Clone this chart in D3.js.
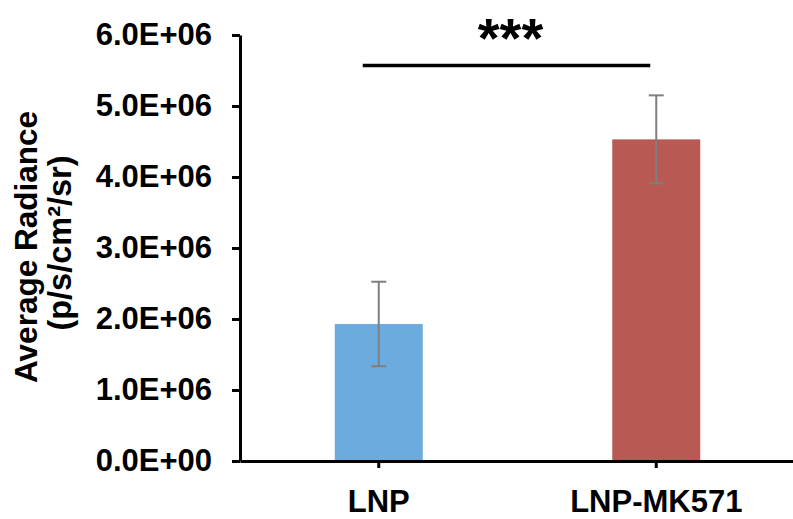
<!DOCTYPE html>
<html>
<head>
<meta charset="utf-8">
<script src="https://cdn.jsdelivr.net/npm/d3@7"></script>
<style>
  body { margin: 0; background: #fff; }
  text { font-family: Arial, "Liberation Sans", sans-serif; font-weight: bold; fill: #000; }
</style>
</head>
<body>
<div class="chart"></div>
<script>
const width = 793;
const height = 519;

// data
const groups = ['LNP', 'LNP-MK571'];
const means = [1.93e6, 4.53e6];
const errors = [0.595e6, 0.62e6];
const colors = ['#6CABDD', '#B85A53'];
const yTicks = [0, 1e6, 2e6, 3e6, 4e6, 5e6, 6e6];
const sigLabel = '***';

const plot = { left: 240, right: 795, top: 35, bottom: 461 };

const svg = d3.select('.chart').append('svg')
    .attr('width', width)
    .attr('height', height)
    .attr('viewBox', `0 0 ${width} ${height}`);

// format like Excel scientific: 6.0E+06
const sci = d => {
    if (d === 0) return '0.0E+00';
    const e = Math.floor(Math.log10(d));
    const m = d / Math.pow(10, e);
    return m.toFixed(1) + 'E' + (e < 0 ? '-' : '+') + String(Math.abs(e)).padStart(2, '0');
};

/*      scales      */
const yScale = d3.scaleLinear()
    .domain([0, 6e6])
    .range([plot.bottom, plot.top]);

const xScale = d3.scaleBand()
    .domain(groups)
    .range([plot.left, plot.right])
    .padding(0);

const barW = xScale.bandwidth() * 0.317;

/*      bars      */
svg.append('g').selectAll('rect')
    .data(groups)
    .enter()
    .append('rect')
    .attr('x', (d) => xScale(d) + xScale.bandwidth() / 2 - barW / 2)
    .attr('y', (d, i) => yScale(means[i]))
    .attr('width', barW)
    .attr('height', (d, i) => plot.bottom - yScale(means[i]))
    .attr('fill', (d, i) => colors[i]);

/*      error bars      */
const errG = svg.append('g')
    .attr('stroke', '#7F7F7F')
    .attr('stroke-width', 2);
groups.forEach((g, i) => {
    const cx = xScale(g) + xScale.bandwidth() / 2;
    const hi = yScale(means[i] + errors[i]);
    const lo = yScale(means[i] - errors[i]);
    errG.append('line').attr('x1', cx).attr('x2', cx).attr('y1', hi).attr('y2', lo);
    errG.append('line').attr('x1', cx - 7.5).attr('x2', cx + 7.5).attr('y1', hi).attr('y2', hi);
    errG.append('line').attr('x1', cx - 7.5).attr('x2', cx + 7.5).attr('y1', lo).attr('y2', lo);
});

/*      y axis      */
const yAxis = svg.append('g')
    .attr('transform', `translate(${plot.left},0)`)
    .call(d3.axisLeft(yScale).tickValues(yTicks).tickFormat(sci).tickSize(8).tickPadding(20).tickSizeOuter(0));
yAxis.selectAll('.domain, line').attr('stroke', '#000').attr('stroke-width', 3);
yAxis.selectAll('text')
    .attr('font-size', 31)
    .attr('font-family', null)
    .attr('fill', '#000');

/*      x axis      */
const xAxis = svg.append('g')
    .attr('transform', `translate(0,${plot.bottom})`)
    .call(d3.axisBottom(xScale).tickSize(7).tickPadding(22).tickSizeOuter(0));
xAxis.selectAll('.domain, line').attr('stroke', '#000').attr('stroke-width', 3);
xAxis.selectAll('text')
    .attr('font-size', 31)
    .attr('font-family', null)
    .attr('fill', '#000');

/*      axis title      */
svg.append('text')
    .attr('transform', 'translate(37,247) rotate(-90)')
    .attr('text-anchor', 'middle')
    .attr('font-size', 31.5)
    .text('Average Radiance');
svg.append('text')
    .attr('transform', 'translate(71,243) rotate(-90)')
    .attr('text-anchor', 'middle')
    .attr('font-size', 32.5)
    .text('(p/s/cm²/sr)');

/*      significance bracket      */
const x1 = xScale(groups[0]) + xScale.bandwidth() / 2 - 16;
const x2 = xScale(groups[1]) + xScale.bandwidth() / 2 - 6;
svg.append('line')
    .attr('x1', x1).attr('x2', x2)
    .attr('y1', 65.5).attr('y2', 65.5)
    .attr('stroke', '#000')
    .attr('stroke-width', 3.5);
svg.append('text')
    .attr('x', (x1 + x2) / 2 + 4)
    .attr('y', 57)
    .attr('text-anchor', 'middle')
    .attr('font-size', 56)
    .text(sigLabel);
</script>
</body>
</html>
